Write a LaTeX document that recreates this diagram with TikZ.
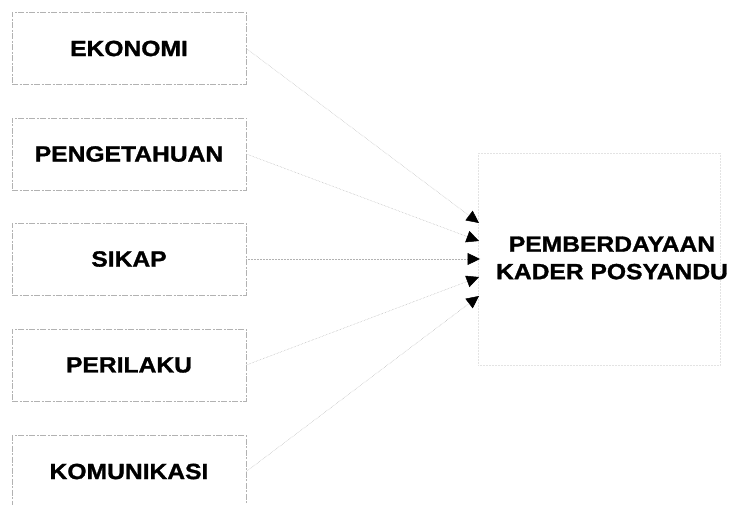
\documentclass[tikz,border=0pt]{standalone}
\usepackage{fontspec}
\setmainfont{Liberation Sans}
\newfontfamily\heavyfont{Liberation Sans Bold}[FakeStretch=1.12,FakeBold=1.3]
\usetikzlibrary{arrows.meta}
\begin{document}
\begin{tikzpicture}[x=1pt,y=-1pt,
  factorbox/.style={draw=gray!60,line width=0.6pt,dash pattern=on 6pt off 1.5pt on 2pt off 1.5pt,
    minimum width=234pt,minimum height=72pt,inner sep=0pt,
    font=\fontsize{22}{25}\heavyfont},
  targetbox/.style={draw=gray!22,line width=0.5pt,densely dotted,
    minimum width=242pt,minimum height=212pt,inner sep=0pt},
  targettext/.style={align=center,inner sep=0pt,font=\fontsize{22}{27.5}\heavyfont},
  link/.style={draw=gray!60,line width=0.5pt,densely dotted,
    -{Triangle[length=12.5pt,width=12pt,color=black,fill=black]}}]
\useasboundingbox (0,0) rectangle (738,505);
\node[factorbox] (b1) at (129,48.5) {EKONOMI};
\node[factorbox] (b2) at (129,154) {PENGETAHUAN};
\node[factorbox] (b3) at (129,259) {SIKAP};
\node[factorbox] (b4) at (129,365) {PERILAKU};
\node[factorbox] (b5) at (129,471.5) {KOMUNIKASI};
\node[targetbox] (t) at (599,259) {};
\node[targettext] (tt) at (612,258) {PEMBERDAYAAN\\KADER POSYANDU};
\coordinate (e1) at (479,223);
\coordinate (e2) at (479,241);
\coordinate (e3) at (480,259);
\coordinate (e4) at (479,277);
\coordinate (e5) at (479,296);
\draw[link] (b1.east) -- (e1);
\draw[link] (b2.east) -- (e2);
\draw[link] (b3.east) -- (e3);
\draw[link] (b4.east) -- (e4);
\draw[link] (b5.east) -- (e5);
\end{tikzpicture}
\end{document}
